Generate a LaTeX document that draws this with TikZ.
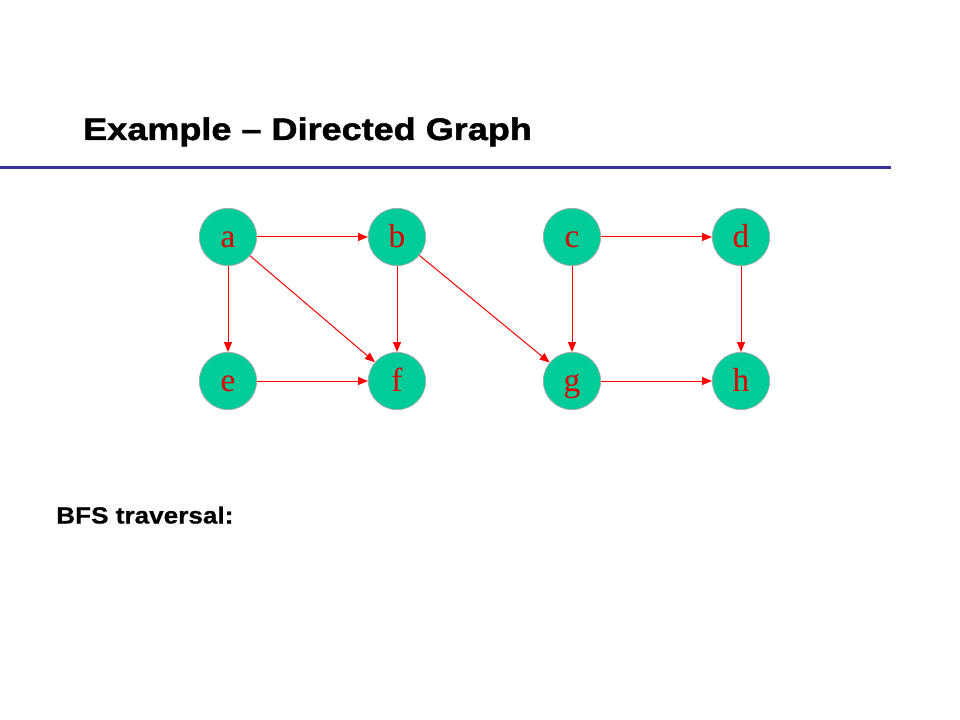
\documentclass[tikz,border=0pt]{standalone}
\usepackage{fontspec}
\setmainfont{Liberation Serif}
\newfontfamily\titlefont[FakeStretch=1.16,BoldFeatures={FakeBold=1.6}]{Liberation Sans}
\newfontfamily\labelfont[FakeStretch=1.12,BoldFeatures={FakeBold=0.8}]{Liberation Sans}
\usetikzlibrary{arrows.meta}
\definecolor{nodegreen}{HTML}{00CC99}
\definecolor{rulecol}{HTML}{333399}
\definecolor{edgered}{HTML}{FF0000}
\definecolor{letterred}{HTML}{E00000}
\begin{document}
\begin{tikzpicture}[x=0.75pt,y=-0.75pt,
  vert/.style={circle,fill=nodegreen,draw=gray!70,line width=0.5pt,minimum size=43pt,inner sep=0pt,
    text=letterred,font=\fontsize{25}{25}\selectfont,text height=16pt,text depth=0pt},
  edge/.style={draw=edgered,line width=0.75pt,-{Triangle[length=7.5pt,width=6pt]}}]
\useasboundingbox (0,0) rectangle (960,720);
\node[anchor=base west,inner sep=0pt] (title) at (83,140) {\titlefont\bfseries\fontsize{23.3}{26}\selectfont Example – Directed Graph};
\coordinate (r1) at (0,167.5);
\coordinate (r2) at (891,167.5);
\draw[rulecol,line width=1.6pt] (r1) -- (r2);
\node[vert] (a) at (228,237) {a};
\node[vert] (b) at (397,237) {b};
\node[vert] (c) at (572,237) {c};
\node[vert] (d) at (741,237) {d};
\node[vert] (e) at (228,381) {e};
\node[vert] (f) at (397,381) {f};
\node[vert] (g) at (572,381) {g};
\node[vert] (h) at (741,381) {h};
\draw[edge] (a) -- (b);
\draw[edge] (a) -- (e);
\draw[edge] (a) -- (f);
\draw[edge] (b) -- (f);
\draw[edge] (b) -- (g);
\draw[edge] (c) -- (d);
\draw[edge] (c) -- (g);
\draw[edge] (d) -- (h);
\draw[edge] (e) -- (f);
\draw[edge] (g) -- (h);
\node[anchor=base west,inner sep=0pt] (bfs) at (56,523.5) {\labelfont\bfseries\fontsize{17.5}{20}\selectfont BFS traversal:};
\end{tikzpicture}
\end{document}
